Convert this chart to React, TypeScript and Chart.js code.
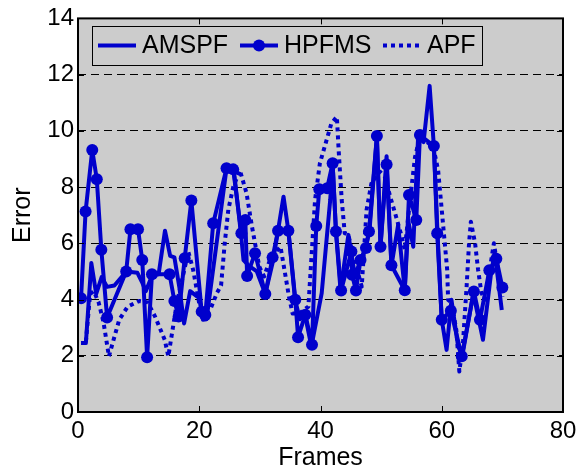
import React, { useEffect, useRef } from 'react';
import { Chart, registerables } from 'chart.js';

Chart.register(...registerables);

// ---- Data ----
const amspfX = [0.5, 1.3, 2.2, 3.0, 3.9, 4.8, 6.0, 8.0, 9.8, 10.6, 11.2, 12.3, 13.3, 14.35, 15.2, 15.9, 16.7, 17.5, 18.5, 20.0, 20.6, 21.2, 24.5, 25.7, 26.9, 27.3, 28.2, 29.5, 30.9, 32.2, 33.9, 34.7, 35.8, 36.6, 37.4, 38.5, 40.2, 41.6, 42.0, 42.55, 43.3, 44.6, 45.7, 46.4, 47.4, 48.1, 49.3, 49.9, 50.9, 51.7, 52.8, 53.9, 54.5, 55.3, 56.1, 57.0, 58.0, 58.7, 59.3, 60.0, 60.8, 61.6, 62.7, 63.4, 65.2, 66.8, 68.2, 68.75, 69.9];
const amspfY = [2.45, 2.45, 5.3, 4.2, 4.8, 4.45, 4.5, 5.0, 4.95, 4.6, 4.3, 4.9, 4.9, 6.45, 5.55, 5.5, 4.46, 3.15, 4.3, 4.05, 3.28, 3.3, 8.67, 8.6, 6.3, 5.4, 5.2, 5.0, 4.2, 5.4, 7.66, 6.45, 4.0, 3.3, 3.5, 2.33, 4.23, 7.54, 8.85, 6.42, 4.34, 6.3, 4.82, 5.3, 5.8, 6.5, 9.8, 5.88, 9.1, 5.2, 6.65, 4.34, 6.77, 5.88, 9.79, 9.6, 11.6, 9.46, 6.36, 3.28, 2.21, 3.99, 2.33, 2.0, 4.23, 2.57, 5.05, 5.65, 3.63];

const hpfmsX = [0.5, 1.25, 2.35, 3.1, 3.85, 4.8, 7.95, 8.65, 9.9, 10.6, 11.4, 12.2, 15.1, 15.9, 16.6, 17.6, 18.7, 20.4, 21.0, 22.3, 24.5, 25.6, 26.95, 27.6, 27.9, 29.2, 30.9, 32.1, 33.0, 34.7, 35.85, 36.3, 37.5, 38.6, 39.3, 39.8, 41.1, 42.0, 42.55, 43.4, 45.1, 45.2, 45.85, 46.6, 47.5, 48.0, 49.3, 49.9, 50.9, 51.7, 53.9, 54.6, 55.8, 56.4, 58.7, 59.25, 60.0, 61.5, 63.3, 65.3, 66.3, 67.85, 69.0, 70.0];
const hpfmsY = [4.05, 7.13, 9.32, 8.28, 5.77, 3.36, 5.0, 6.5, 6.5, 5.41, 1.95, 4.9, 4.9, 3.95, 3.4, 5.47, 7.52, 3.57, 3.45, 6.71, 8.67, 8.63, 6.36, 6.83, 4.84, 5.65, 4.2, 5.5, 6.45, 6.45, 3.99, 2.66, 3.46, 2.39, 6.62, 7.92, 7.96, 8.85, 6.42, 4.32, 5.71, 4.88, 4.32, 5.41, 5.83, 6.42, 9.82, 5.88, 8.8, 5.22, 4.33, 7.72, 6.83, 9.85, 9.46, 6.36, 3.28, 3.6, 1.98, 4.29, 3.28, 5.04, 5.45, 4.43];

const apfX = [1.3, 2.0, 2.6, 3.4, 4.2, 5.1, 6.8, 8.2, 10.1, 11.5, 12.7, 14.3, 14.9, 16.3, 18.2, 19.0, 20.4, 21.8, 22.9, 23.6, 24.2, 24.8, 25.6, 26.7, 27.8, 28.7, 29.5, 29.9, 30.7, 31.8, 33.4, 34.1, 34.8, 35.4, 36.6, 38.0, 39.1, 39.9, 41.0, 41.8, 42.7, 43.0, 43.5, 44.0, 44.6, 45.4, 46.2, 46.8, 47.6, 48.4, 49.8, 50.6, 51.5, 52.3, 53.4, 53.9, 54.7, 55.6, 56.4, 58.6, 59.4, 60.0, 60.5, 60.9, 61.05, 61.6, 62.4, 62.9, 63.5, 64.1, 64.5, 64.8, 65.5, 66.0, 66.55, 67.2, 67.9, 68.6, 69.3, 70.0];
const apfY = [2.5, 4.2, 4.3, 3.9, 3.2, 1.98, 3.28, 3.75, 3.95, 3.9, 3.4, 2.57, 1.98, 3.87, 5.7, 5.05, 3.38, 3.63, 4.23, 4.5, 6.0, 7.2, 8.0, 8.6, 7.78, 6.59, 5.65, 5.17, 4.82, 5.5, 5.88, 5.0, 4.1, 3.5, 3.52, 3.75, 7.54, 8.85, 9.67, 10.27, 10.5, 9.3, 7.54, 6.36, 6.3, 5.53, 4.94, 4.46, 7.19, 8.13, 8.55, 8.37, 7.66, 7.07, 6.24, 5.77, 7.42, 9.08, 9.79, 9.43, 8.6, 7.19, 6.0, 5.05, 3.99, 3.9, 2.92, 1.44, 2.45, 4.46, 6.0, 6.77, 6.0, 5.05, 4.23, 4.0, 5.05, 6.0, 5.05, 4.1];

const seriesLabels = ['AMSPF', 'HPFMS', 'APF'];
const xTicks = [0, 20, 40, 60, 80];
const yTicks = [0, 2, 4, 6, 8, 10, 12, 14];

const BLUE = 'rgb(0,0,204)';
const FONT = '"Liberation Sans", Arial, Helvetica, sans-serif';

const pts = (xs: number[], ys: number[]) => xs.map((x, i) => ({ x, y: ys[i] }));

const framePlugin = {
  id: 'matlabFrame',
  beforeDraw(chart: any) {
    const { ctx, chartArea: a } = chart;
    ctx.save();
    ctx.fillStyle = '#cccccc';
    ctx.fillRect(a.left, a.top, a.right - a.left, a.bottom - a.top);
    ctx.restore();
  },
  afterDraw(chart: any) {
    const { ctx, chartArea: a, scales } = chart;
    ctx.save();
    // inside tick marks
    ctx.strokeStyle = '#000';
    ctx.lineWidth = 1;
    const tl = 6;
    xTicks.forEach((t) => {
      const px = Math.round(scales.x.getPixelForValue(t)) + 0.5;
      ctx.beginPath();
      ctx.moveTo(px, a.bottom); ctx.lineTo(px, a.bottom - tl);
      ctx.moveTo(px, a.top); ctx.lineTo(px, a.top + tl);
      ctx.stroke();
    });
    yTicks.forEach((t) => {
      const py = Math.round(scales.y.getPixelForValue(t)) + 0.5;
      ctx.beginPath();
      ctx.moveTo(a.left, py); ctx.lineTo(a.left + tl, py);
      ctx.moveTo(a.right, py); ctx.lineTo(a.right - tl, py);
      ctx.stroke();
    });
    // box
    ctx.lineWidth = 2;
    ctx.strokeRect(a.left, a.top, a.right - a.left, a.bottom - a.top);

    // legend
    const lx = 92, ly = 26, lw = 390, lh = 39;
    ctx.fillStyle = '#cccccc';
    ctx.fillRect(lx, ly, lw, lh);
    ctx.lineWidth = 1;
    ctx.strokeStyle = '#000';
    ctx.strokeRect(lx + 0.5, ly + 0.5, lw, lh);
    const starts = [98, 240, 383];
    const cy = 45.5;
    ctx.font = `25px ${FONT}`;
    ctx.textBaseline = 'middle';
    ctx.textAlign = 'left';
    chart.data.datasets.forEach((ds: any, i: number) => {
      const sx = starts[i];
      const len = 38;
      ctx.save();
      ctx.strokeStyle = ds.borderColor;
      ctx.lineWidth = ds.borderWidth;
      ctx.setLineDash(ds.borderDash || []);
      ctx.beginPath();
      ctx.moveTo(sx, cy); ctx.lineTo(sx + len, cy);
      ctx.stroke();
      if (ds.pointRadius > 0) {
        ctx.setLineDash([]);
        ctx.fillStyle = ds.pointBackgroundColor;
        ctx.beginPath();
        ctx.arc(sx + len / 2, cy, ds.pointRadius, 0, Math.PI * 2);
        ctx.fill();
      }
      ctx.restore();
      ctx.fillStyle = '#000';
      ctx.fillText(ds.label, sx + len + 6, cy + 1);
    });
    ctx.restore();
  },
};

export default function App() {
  const ref = useRef<HTMLCanvasElement | null>(null);
  useEffect(() => {
    if (!ref.current) return;
    const chart = new Chart(ref.current, {
      type: 'line',
      data: {
        datasets: [
          {
            label: seriesLabels[0],
            data: pts(amspfX, amspfY),
            borderColor: BLUE,
            backgroundColor: BLUE,
            borderWidth: 4,
            borderJoinStyle: 'round',
            pointRadius: 0,
            tension: 0,
            clip: 0,
            order: 2,
          } as any,
          {
            label: seriesLabels[1],
            data: pts(hpfmsX, hpfmsY),
            borderColor: BLUE,
            backgroundColor: BLUE,
            pointBackgroundColor: BLUE,
            pointBorderColor: BLUE,
            borderWidth: 4,
            borderJoinStyle: 'round',
            pointRadius: 6,
            pointBorderWidth: 0,
            tension: 0,
            clip: 0,
            order: 1,
          } as any,
          {
            label: seriesLabels[2],
            data: pts(apfX, apfY),
            borderColor: BLUE,
            backgroundColor: BLUE,
            borderWidth: 4,
            borderDash: [4, 4],
            borderJoinStyle: 'round',
            pointRadius: 0,
            tension: 0,
            clip: 0,
            order: 0,
          } as any,
        ],
      },
      options: {
        animation: false,
        responsive: false,
        devicePixelRatio: 1,
        layout: { padding: { top: 18, right: 22, left: 0, bottom: 0 } },
        plugins: { legend: { display: false }, tooltip: { enabled: false } },
        scales: {
          x: {
            type: 'linear',
            min: 0,
            max: 80,
            afterBuildTicks: (s: any) => { s.ticks = xTicks.map((v) => ({ value: v })); },
            afterFit: (s: any) => { s.height = 56; },
            grid: { display: false, drawTicks: false },
            border: { display: false },
            ticks: { color: '#000', font: { family: FONT, size: 24 }, padding: 5, maxRotation: 0, autoSkip: false },
            title: { display: true, text: 'Frames', color: '#000', font: { family: FONT, size: 25 }, padding: { top: 0, bottom: -5 } },
          },
          y: {
            min: 0,
            max: 14,
            afterBuildTicks: (s: any) => { s.ticks = yTicks.map((v) => ({ value: v })); },
            afterFit: (s: any) => { s.width = 78; },
            grid: { color: '#000', lineWidth: 1, drawTicks: false },
            border: { display: false, dash: [8, 5] },
            ticks: { color: '#000', font: { family: FONT, size: 24 }, padding: 4, autoSkip: false },
            title: { display: true, text: 'Error', color: '#000', font: { family: FONT, size: 25 }, padding: { top: 8, bottom: 0 } },
          },
        },
      } as any,
      plugins: [framePlugin],
    });
    return () => chart.destroy();
  }, []);
  return (
    <div style={{ position: 'absolute', left: 0, top: 0, width: 585, height: 468, background: '#fff' }}>
      <canvas ref={ref} width={585} height={468} style={{ display: 'block' }} />
    </div>
  );
}
